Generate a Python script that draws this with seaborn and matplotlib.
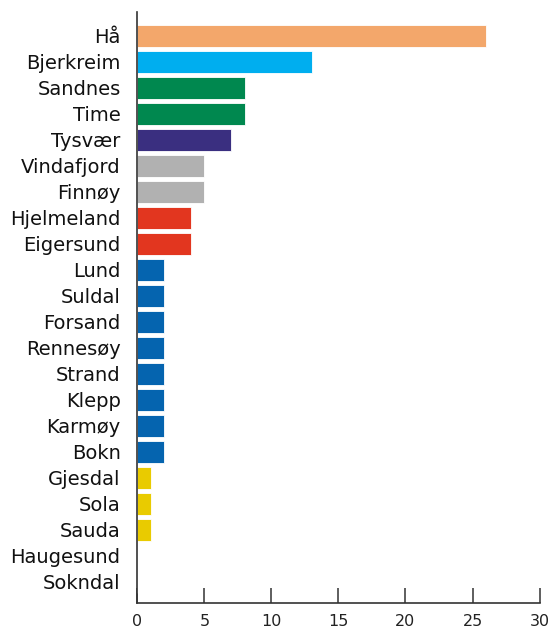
import matplotlib
matplotlib.use("Agg")
import matplotlib.pyplot as plt
import seaborn as sns
import pandas as pd

municipalities = ["Hå", "Bjerkreim", "Sandnes", "Time", "Tysvær", "Vindafjord",
                  "Finnøy", "Hjelmeland", "Eigersund", "Lund", "Suldal", "Forsand",
                  "Rennesøy", "Strand", "Klepp", "Karmøy", "Bokn", "Gjesdal",
                  "Sola", "Sauda", "Haugesund", "Sokndal"]
values = [26, 13, 8, 8, 7, 5, 5, 4, 4, 2, 2, 2, 2, 2, 2, 2, 2, 1, 1, 1, 0, 0]
bar_colors = ["#F3A76B", "#00AEEF", "#00884F", "#00884F", "#3A2F80", "#B1B1B1",
              "#B1B1B1", "#E2361F", "#E2361F", "#0564AF", "#0564AF", "#0564AF",
              "#0564AF", "#0564AF", "#0564AF", "#0564AF", "#0564AF", "#E9CB00",
              "#E9CB00", "#E9CB00", "#E9CB00", "#E9CB00"]
x_ticks = [0, 5, 10, 15, 20, 25, 30]

df = pd.DataFrame({"kommune": municipalities, "verdi": values})

sns.set_style("white")
plt.rcParams["font.family"] = ["DejaVu Sans"]

fig = plt.figure(figsize=(5.5, 6.3), dpi=100)
ax = fig.add_axes([0.2496, 0.0424, 0.981 - 0.2496, 0.9814 - 0.0424])

sns.barplot(data=df, x="verdi", y="kommune", hue="kommune",
            palette=dict(zip(municipalities, bar_colors)), legend=False,
            orient="h", width=0.85, edgecolor="white", linewidth=0.6,
            saturation=1, ax=ax)

ax.set_xlim(0, 30)
ax.set_ylim(21.82, -0.93)
ax.set_xticks(x_ticks)
ax.set_xticklabels([str(t) for t in x_ticks])
ax.set_xlabel("")
ax.set_ylabel("")

for s in ["top", "right"]:
    ax.spines[s].set_visible(False)
for s in ["left", "bottom"]:
    ax.spines[s].set_color("#333333")
    ax.spines[s].set_linewidth(1.2)

ax.tick_params(axis="x", direction="in", length=11, width=1.1, color="#333333",
               pad=8, labelsize=11.5, labelcolor="#222222", bottom=True)
ax.tick_params(axis="y", length=0, pad=12, labelsize=14, labelcolor="#111111")

fig.savefig("out.png", dpi=100)
